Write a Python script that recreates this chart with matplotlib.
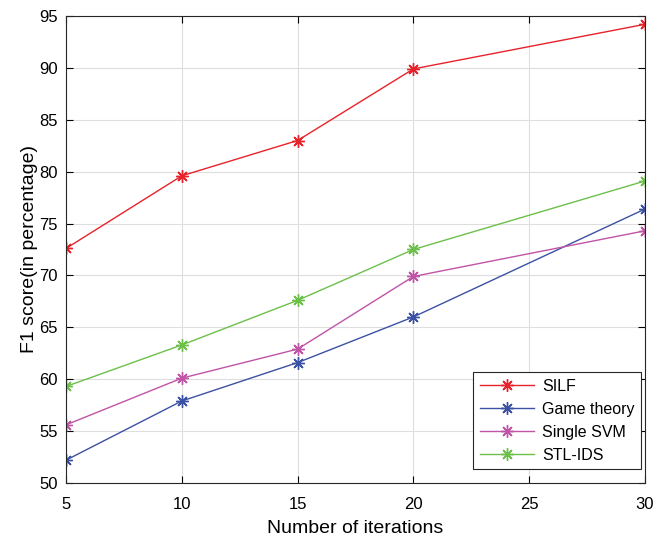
import matplotlib
matplotlib.use("Agg")
import matplotlib.pyplot as plt

plt.rcParams['font.family'] = ['Liberation Sans', 'DejaVu Sans']

iterations = [5, 10, 15, 20, 30]
silf = [72.6, 79.6, 83.0, 89.9, 94.2]
game_theory = [52.2, 57.9, 61.6, 66.0, 76.4]
single_svm = [55.6, 60.1, 62.9, 69.9, 74.3]
stl_ids = [59.3, 63.3, 67.6, 72.5, 79.1]

fig = plt.figure(figsize=(6.55, 5.42), dpi=100)
ax = fig.add_axes([0.1008, 0.1089, 0.8839, 0.8616])

star = (8, 2, 0)
ax.plot(iterations, silf, color='#e8222a', marker=star, markersize=9, linewidth=1.0, label='SILF')
ax.plot(iterations, game_theory, color='#3b51a3', marker=star, markersize=9, linewidth=1.0, label='Game theory')
ax.plot(iterations, single_svm, color='#c054a6', marker=star, markersize=9, linewidth=1.0, label='Single SVM')
ax.plot(iterations, stl_ids, color='#6cc04a', marker=star, markersize=9, linewidth=1.0, label='STL-IDS')

ax.set_xlim(5, 30)
ax.set_ylim(50, 95)
ax.set_xticks([5, 10, 15, 20, 25, 30])
ax.set_yticks(range(50, 96, 5))
ax.grid(True, color='#dedede', linewidth=0.8)
ax.set_axisbelow(True)
ax.tick_params(direction='in', top=True, right=True, labelsize=12, length=5)
ax.tick_params(axis='x', pad=10)
ax.tick_params(axis='y', pad=6)
for s in ax.spines.values():
    s.set_linewidth(0.8)
    s.set_color('#262626')

ax.set_xlabel('Number of iterations', fontsize=14, labelpad=6)
ax.set_ylabel('F1 score(in percentage)', fontsize=14, labelpad=1)

leg = ax.legend(loc='lower right', bbox_to_anchor=(0.993, 0.03), fontsize=11.5,
                fancybox=False, framealpha=1, edgecolor='#262626',
                handlelength=3.4, handletextpad=0.5, borderaxespad=0,
                labelspacing=0.5)
leg.get_frame().set_linewidth(0.8)

plt.savefig('out.png', dpi=100)
